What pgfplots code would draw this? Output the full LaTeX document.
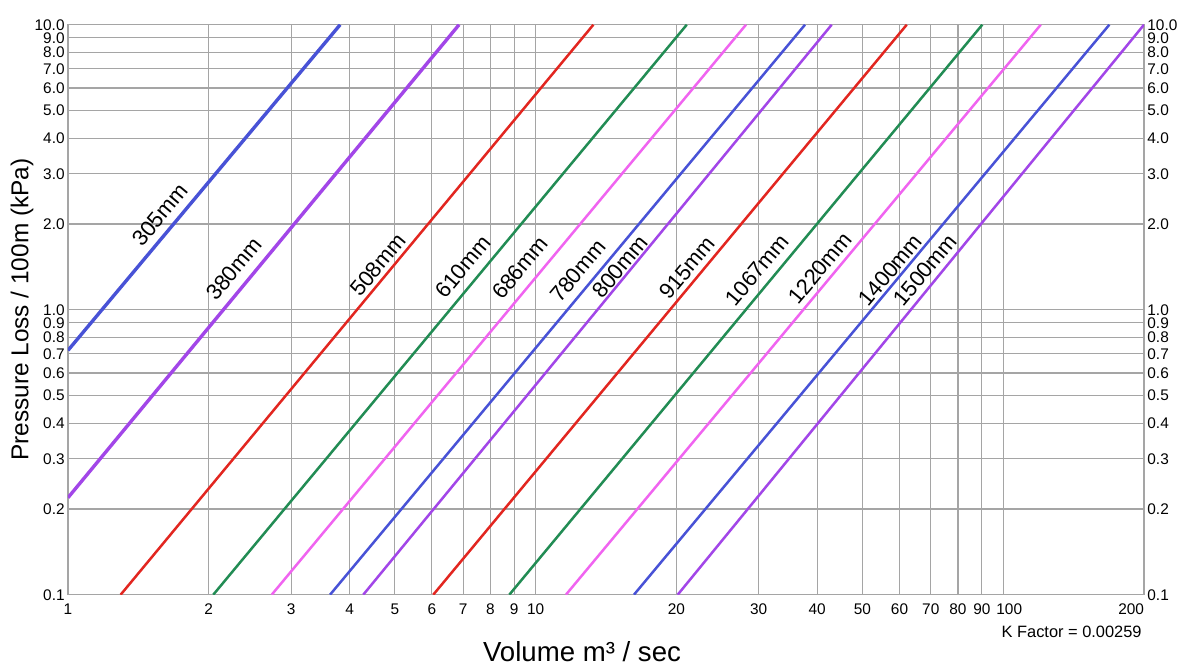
\documentclass[border=0pt]{standalone}
\usepackage{pgfplots}
\pgfplotsset{compat=1.18}
\usepackage{fontspec}
\setmainfont{Liberation Sans}
\definecolor{cblue}{RGB}{72,82,214}
\definecolor{cpurple}{RGB}{162,70,232}
\definecolor{cred}{RGB}{226,38,32}
\definecolor{cgreen}{RGB}{34,140,84}
\definecolor{cpink}{RGB}{240,100,240}
\definecolor{cgrid}{RGB}{165,165,165}
\begin{document}
\begin{tikzpicture}
\useasboundingbox (-34pt,-35.5pt) rectangle (558.5pt,297.35pt);
\begin{axis}[name=main,
  xmode=log, ymode=log,
  at={(0,0)}, anchor=south west,
  scale only axis, width=538pt, height=285pt,
  xmin=1, xmax=200, ymin=0.1, ymax=10,
  major tick length=0pt, minor tick length=0pt,
  tick style={draw=none},
  /pgf/number format/assume math mode=true,
  ticklabel style={font=\fontsize{7.7}{9}\selectfont},
  ytick={0.1,0.2,0.3,0.4,0.5,0.6,0.7,0.8,0.9,1,2,3,4,5,6,7,8,9,10},
  yticklabels={0.1,0.2,0.3,0.4,0.5,0.6,0.7,0.8,0.9,1.0,2.0,3.0,4.0,5.0,6.0,7.0,8.0,9.0,10.0},
  yticklabel style={inner sep=1.5pt},
  xtick={1,2,3,4,5,6,7,8,9,10,20,30,40,50,60,70,80,90,100,200},
  xticklabels={1,2,3,4,5,6,7,8,9,10,20,30,40,50,60,70,80,90,{\hspace{6pt}100},{\llap{200}}},
  xticklabel style={anchor=base, yshift=-10pt, inner sep=0pt},
  grid=major,
  major grid style={cgrid, line width=0.6pt},
  axis line style={cgrid, line width=0.6pt},
  xlabel={Volume m³ / sec},
  xlabel style={at={(axis description cs:0.4777,-0.1175)}, anchor=base, inner sep=0pt, font=\fontsize{13.8}{16}\selectfont},
  ylabel={Pressure Loss / 100m (kPa)},
  ylabel style={at={(axis description cs:-0.0428,0.5)}, anchor=center, font=\fontsize{12.2}{14}\selectfont},
]
\addplot[cblue, line width=1.7pt] coordinates {(1,0.72) (3.82,10)};
\addplot[cpurple, line width=1.7pt] coordinates {(1,0.219) (6.86,10)};
\addplot[cred, line width=1.25pt] coordinates {(1.296,0.1) (13.29,10)};
\addplot[cgreen, line width=1.25pt] coordinates {(2.045,0.1) (21.05,10)};
\addplot[cpink, line width=1.25pt] coordinates {(2.727,0.1) (28.18,10)};
\addplot[cblue, line width=1.25pt] coordinates {(3.634,0.1) (37.68,10)};
\addplot[cpurple, line width=1.25pt] coordinates {(4.280,0.1) (42.97,10)};
\addplot[cred, line width=1.25pt] coordinates {(6.042,0.1) (62.18,10)};
\addplot[cgreen, line width=1.25pt] coordinates {(8.786,0.1) (90.2,10)};
\addplot[cpink, line width=1.25pt] coordinates {(11.61,0.1) (120.3,10)};
\addplot[cblue, line width=1.25pt] coordinates {(16.23,0.1) (168.6,10)};
\addplot[cpurple, line width=1.25pt] coordinates {(20.13,0.1) (200,10)};
\begin{scope}[every node/.style={rotate=50, font=\fontsize{11}{13}\selectfont, inner sep=0pt}]
\node at (axis cs:1.573,2.15) {305mm};
\node at (axis cs:2.265,1.391) {380mm};
\node at (axis cs:4.60,1.437) {508mm};
\node at (axis cs:6.995,1.414) {610mm};
\node at (axis cs:9.26,1.402) {686mm};
\node at (axis cs:12.32,1.368) {780mm};
\node at (axis cs:15.15,1.414) {800mm};
\node at (axis cs:21.08,1.402) {915mm};
\node at (axis cs:29.75,1.379) {1067mm};
\node at (axis cs:40.57,1.402) {1220mm};
\node at (axis cs:57.3,1.379) {1400mm};
\node at (axis cs:68.05,1.379) {1500mm};
\end{scope}
\end{axis}
\begin{axis}[
  xmode=log, ymode=log,
  at={(0,0)}, anchor=south west,
  scale only axis, width=538pt, height=285pt,
  xmin=1, xmax=200, ymin=0.1, ymax=10,
  major tick length=0pt, minor tick length=0pt,
  tick style={draw=none},
  /pgf/number format/assume math mode=true,
  ticklabel style={font=\fontsize{7.7}{9}\selectfont},
  ytick={0.1,0.2,0.3,0.4,0.5,0.6,0.7,0.8,0.9,1,2,3,4,5,6,7,8,9,10},
  yticklabels={0.1,0.2,0.3,0.4,0.5,0.6,0.7,0.8,0.9,1.0,2.0,3.0,4.0,5.0,6.0,7.0,8.0,9.0,10.0},
  yticklabel style={inner sep=1.5pt},
  xtick=\empty,
  yticklabel pos=right,
  axis line style={draw=none},
]
\end{axis}
\node[anchor=base east, inner sep=0pt, font=\fontsize{8.2}{10}\selectfont] at ([xshift=-1pt,yshift=-21.5pt]main.south east) {K Factor = 0.00259};
\end{tikzpicture}
\end{document}
